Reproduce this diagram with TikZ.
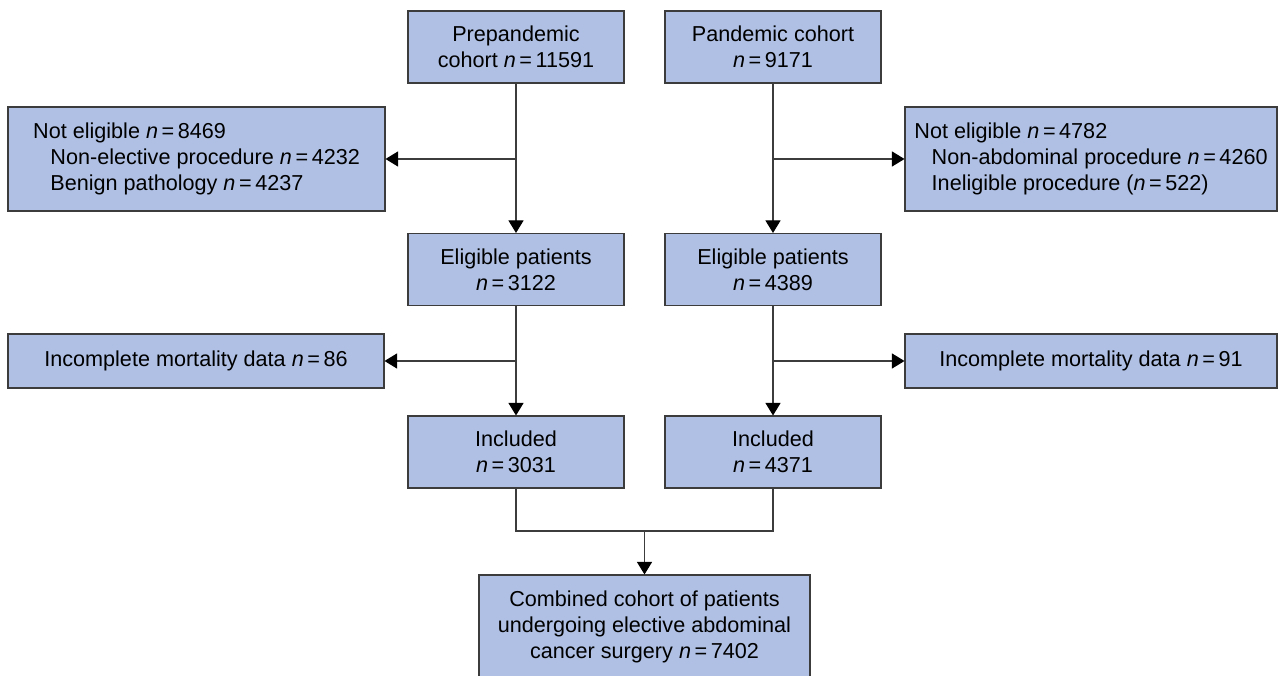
\documentclass[tikz,border=0pt]{standalone}
\usepackage{fontspec}
\setmainfont{Liberation Sans}
\usetikzlibrary{arrows.meta, positioning, calc}
\definecolor{boxblue}{RGB}{175,192,228}
\definecolor{edgegray}{RGB}{60,60,60}
\newcommand{\nval}[1]{\textit{n}\,=\,#1}
\newcommand{\sidearrow}[2]
{
	\draw[flow] (#1.south |- #2) -- (#2)
}

\begin{document}
\begin{tikzpicture}[
	every node/.append style={draw=edgegray, fill=boxblue,
		line width=0.6pt, align=center, inner sep=2pt,
		font=\fontsize{12.3}{14.6}\selectfont},
	flow/.style={draw=edgegray, line width=0.6pt,
		-{Triangle[length=2.5mm, width=3mm, color=black]}},
	minimum width=4.32cm,
	minimum height=1.44cm]

	\useasboundingbox (0,0) rectangle (25.58,-13.52);

	\node at (10.32, -0.94) (pre){Prepandemic\\cohort \nval{11591}};
	\node at (15.46, -0.94) (pan){Pandemic cohort\\\nval{9171}};
	\node at (3.93, -3.18) [minimum width=7.54cm, minimum height=2.08cm, align=left] (ne1)
		{Not eligible \nval{8469}\\
		\hspace*{0.8em}Non-elective procedure \nval{4232}\\
		\hspace*{0.8em}Benign pathology \nval{4237}};
	\node at (21.82, -3.18) [minimum width=7.44cm, minimum height=2.08cm, align=left] (ne2)
		{Not eligible \nval{4782}\\
		\hspace*{0.8em}Non-abdominal procedure \nval{4260}\\
		\hspace*{0.8em}Ineligible procedure (\nval{522})};
	\node at (10.32, -5.39) (el1){Eligible patients\\\nval{3122}};
	\node at (15.46, -5.39) (el2){Eligible patients\\\nval{4389}};
	\node at (3.92, -7.22) [minimum width=7.52cm, minimum height=1.08cm] (inc1)
		{Incomplete mortality data \nval{86}};
	\node at (21.82, -7.22) [minimum width=7.44cm, minimum height=1.08cm] (inc2)
		{Incomplete mortality data \nval{91}};
	\node at (10.32, -9.04) (in1){Included\\\nval{3031}};
	\node at (15.46, -9.04) (in2){Included\\\nval{4371}};
	\node at (12.89, -12.54) [minimum width=6.62cm, minimum height=2.08cm] (comb)
		{Combined cohort of patients\\undergoing elective abdominal\\cancer surgery \nval{7402}};
	\coordinate (join) at (12.89, -10.62);

	\draw[flow] (pre) -- (el1);
	\draw[flow] (pan) -- (el2);
	\sidearrow{pre}{ne1.east};
	\sidearrow{pan}{ne2.west};
	\draw[flow] (el1) -- (in1);
	\draw[flow] (el2) -- (in2);
	\sidearrow{el1}{inc1.east};
	\sidearrow{el2}{inc2.west};
	\draw[draw=edgegray, line width=0.6pt] (in1.south) |- (join) -| (in2.south);
	\draw[flow] (join) -- (comb);
\end{tikzpicture}
\end{document}
